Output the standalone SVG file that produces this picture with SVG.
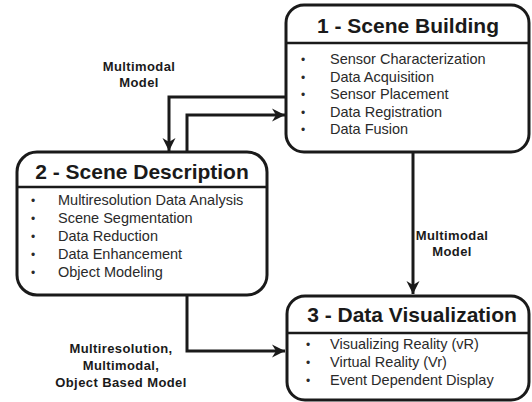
<svg xmlns="http://www.w3.org/2000/svg" width="532" height="402" viewBox="0 0 532 402">
<defs>
<marker id="ah" markerUnits="userSpaceOnUse" markerWidth="14" markerHeight="14" refX="13" refY="7" orient="auto">
<path d="M0,0.5 L13,7 L0,13.5 L4,7 Z" fill="#1a1a1a"/>
</marker>
</defs>
<style>
.box{fill:#fff;stroke:#1a1a1a;stroke-width:3}
.div{stroke:#1a1a1a;stroke-width:2.5}
.title{font-family:"Liberation Sans",Arial,sans-serif;font-weight:bold;font-size:21px;fill:#1a1a1a;text-anchor:middle}
.item{font-family:"Liberation Sans",Arial,sans-serif;font-size:14.5px;fill:#2a2a2a}
.bul{font-family:"Liberation Sans",Arial,sans-serif;font-size:12px;fill:#2a2a2a;text-anchor:middle}
.lbl{font-family:"Liberation Sans",Arial,sans-serif;font-weight:bold;font-size:13px;fill:#1a1a1a;text-anchor:middle;letter-spacing:0.4px}
.con{fill:none;stroke:#1a1a1a;stroke-width:3;marker-end:url(#ah)}
</style>
<rect width="532" height="402" fill="#fff"/>
<g id="connectors">
<path class="con" d="M286,97 H169 V151"/>
<path class="con" d="M187,152 V115 H285"/>
<path class="con" d="M413,152 V294"/>
<path class="con" d="M187,295 V351 H285"/>
</g>
<g id="node1">
<rect class="box" x="286" y="5" width="243" height="147" rx="18"/>
<line class="div" x1="286" y1="43" x2="529" y2="43"/>
<text class="title" x="408" y="33">1 - Scene Building</text>
<text class="bul" x="303" y="64">•</text><text class="item" x="330" y="64">Sensor Characterization</text>
<text class="bul" x="303" y="81.5">•</text><text class="item" x="330" y="81.5">Data Acquisition</text>
<text class="bul" x="303" y="99">•</text><text class="item" x="330" y="99">Sensor Placement</text>
<text class="bul" x="303" y="116.5">•</text><text class="item" x="330" y="116.5">Data Registration</text>
<text class="bul" x="303" y="134">•</text><text class="item" x="330" y="134">Data Fusion</text>
</g>
<g id="node2">
<rect class="box" x="17" y="152" width="250" height="143" rx="20"/>
<line class="div" x1="17" y1="187" x2="267" y2="187"/>
<text class="title" x="142" y="179">2 - Scene Description</text>
<text class="bul" x="33" y="205">•</text><text class="item" x="58" y="205">Multiresolution Data Analysis</text>
<text class="bul" x="33" y="223">•</text><text class="item" x="58" y="223">Scene Segmentation</text>
<text class="bul" x="33" y="241">•</text><text class="item" x="58" y="241">Data Reduction</text>
<text class="bul" x="33" y="259">•</text><text class="item" x="58" y="259">Data Enhancement</text>
<text class="bul" x="33" y="277">•</text><text class="item" x="58" y="277">Object Modeling</text>
</g>
<g id="node3">
<rect class="box" x="287" y="296" width="242" height="104" rx="18"/>
<line class="div" x1="287" y1="333" x2="529" y2="333"/>
<text class="title" x="412" y="322">3 - Data Visualization</text>
<text class="bul" x="308" y="349">•</text><text class="item" x="330" y="349">Visualizing Reality (vR)</text>
<text class="bul" x="308" y="367">•</text><text class="item" x="330" y="367">Virtual Reality (Vr)</text>
<text class="bul" x="308" y="385">•</text><text class="item" x="330" y="385">Event Dependent Display</text>
</g>
<g id="labels">
<text class="lbl" x="139" y="71">Multimodal</text>
<text class="lbl" x="139" y="87">Model</text>
<text class="lbl" x="452" y="240">Multimodal</text>
<text class="lbl" x="452" y="256">Model</text>
<text class="lbl" x="121" y="353">Multiresolution,</text>
<text class="lbl" x="121" y="370">Multimodal,</text>
<text class="lbl" x="121" y="387">Object Based Model</text>
</g>
</svg>
